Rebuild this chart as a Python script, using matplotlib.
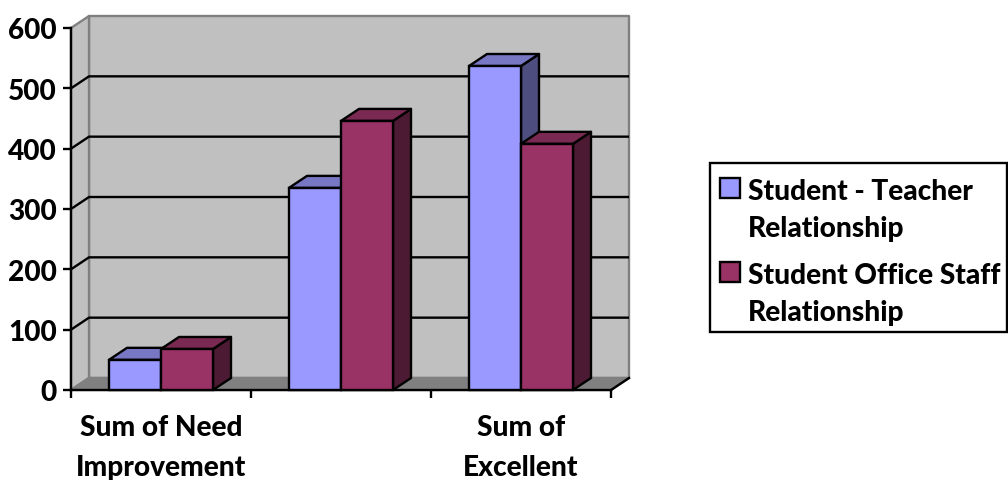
#!/usr/bin/env python3
"""Fake-3D clustered bar chart, the depth is drawn by hand as polygons."""

import matplotlib
matplotlib.use("Agg")
import matplotlib.pyplot as plt
from matplotlib.patches import Polygon, Rectangle

W, H = 1008, 481

groups = ["Sum of Need\nImprovement", "", "Sum of\nExcellent"]
series_names = ["Student - Teacher\nRelationship", "Student Office Staff\nRelationship"]
teacher = [50, 335, 537]
staff = [68, 446, 408]
yticks = [0, 100, 200, 300, 400, 500, 600]

BLUE = ("#9999FF", "#7777C4", "#4D4D80")
RED = ("#993366", "#7A2952", "#4D1A33")
WALL = "#C0C0C0"
FLOOR = "#808080"
LW = 1.7
FS = 20.2
WEIGHT = 900

plt.rcParams["font.family"] = ["Lato", "DejaVu Sans"]

fig = plt.figure(figsize=(W / 100, H / 100), dpi=100)
ax = fig.add_axes([71 / W, 1 - 391 / H, 540 / W, 362 / H])
ax.set_xlim(0, 3)
ax.set_ylim(0, 600)
ax.patch.set_visible(False)

# depth offset of the box, in data units
dx = 18 / 180
dy = 12 / (362 / 600)


def poly(pts, color, z, edge="black"):
    ax.add_patch(Polygon(pts, closed=True, facecolor=color, edgecolor=edge,
                         linewidth=LW, clip_on=False, zorder=z, joinstyle="round"))


# back wall, side wall, floor have grey outlines
poly([(dx, dy), (3 + dx, dy), (3 + dx, 600 + dy), (dx, 600 + dy)], WALL, 1, FLOOR)
poly([(0, 0), (dx, dy), (dx, 600 + dy), (0, 600)], WALL, 1, FLOOR)
poly([(0, 0), (3, 0), (3 + dx, dy), (dx, dy)], FLOOR, 1, FLOOR)
for v in yticks[1:-1]:
    ax.plot([0, dx, 3 + dx], [v, v + dy, v + dy], color="black", lw=LW,
            clip_on=False, zorder=2, solid_capstyle="butt")
# front edge of the floor
ax.plot([3, 3 + dx], [0, dy], color="black", lw=LW, clip_on=False, zorder=2)

# bars, back to front so neighbours overlap properly
bar_w = 52 / 180
start = 38 / 180
for i in range(len(groups)):
    for left, val, cols in [(i + start, teacher[i], BLUE),
                            (i + start + bar_w, staff[i], RED)]:
        z = 3 + i + (left - i)
        poly([(left + bar_w, 0), (left + bar_w + dx, dy),
              (left + bar_w + dx, val + dy), (left + bar_w, val)], cols[2], z)
        poly([(left, val), (left + bar_w, val),
              (left + bar_w + dx, val + dy), (left + dx, val + dy)], cols[1], z)
        ax.bar(left, val, width=bar_w, align="edge", color=cols[0], edgecolor="black",
               linewidth=LW, clip_on=False, zorder=z + 0.01)

for side in ("top", "right"):
    ax.spines[side].set_visible(False)
for side in ("left", "bottom"):
    ax.spines[side].set_linewidth(LW)
    ax.spines[side].set_zorder(2.5)

ax.set_yticks(yticks)
ax.set_xticks([0, 1, 2, 3])
ax.set_xticklabels([])
ax.tick_params(axis="y", length=6, width=LW, pad=4, labelsize=FS)
ax.tick_params(axis="x", length=6, width=LW)
for lab in ax.get_yticklabels():
    lab.set_fontweight(WEIGHT)

for i, name in enumerate(groups):
    if name:
        ax.text(i + 0.5, -40, name, ha="center", va="top", fontsize=FS,
                fontweight=WEIGHT, linespacing=1.66, clip_on=False)

# legend box drawn in figure pixels
fig.add_artist(Rectangle((710 / W, 1 - 333 / H), 297 / W, 169 / H, transform=fig.transFigure,
                         facecolor="white", edgecolor="black", linewidth=LW))
for ytop, name, cols in [(179, series_names[0], BLUE), (263, series_names[1], RED)]:
    fig.add_artist(Rectangle((720 / W, 1 - (ytop + 20) / H), 20 / W, 20 / H,
                             transform=fig.transFigure, facecolor=cols[0],
                             edgecolor="black", linewidth=LW))
    fig.text(748 / W, 1 - (ytop - 0.5) / H, name, ha="left", va="top", fontsize=FS,
             fontweight=WEIGHT, linespacing=1.56)

fig.savefig("out.png", dpi=100)
